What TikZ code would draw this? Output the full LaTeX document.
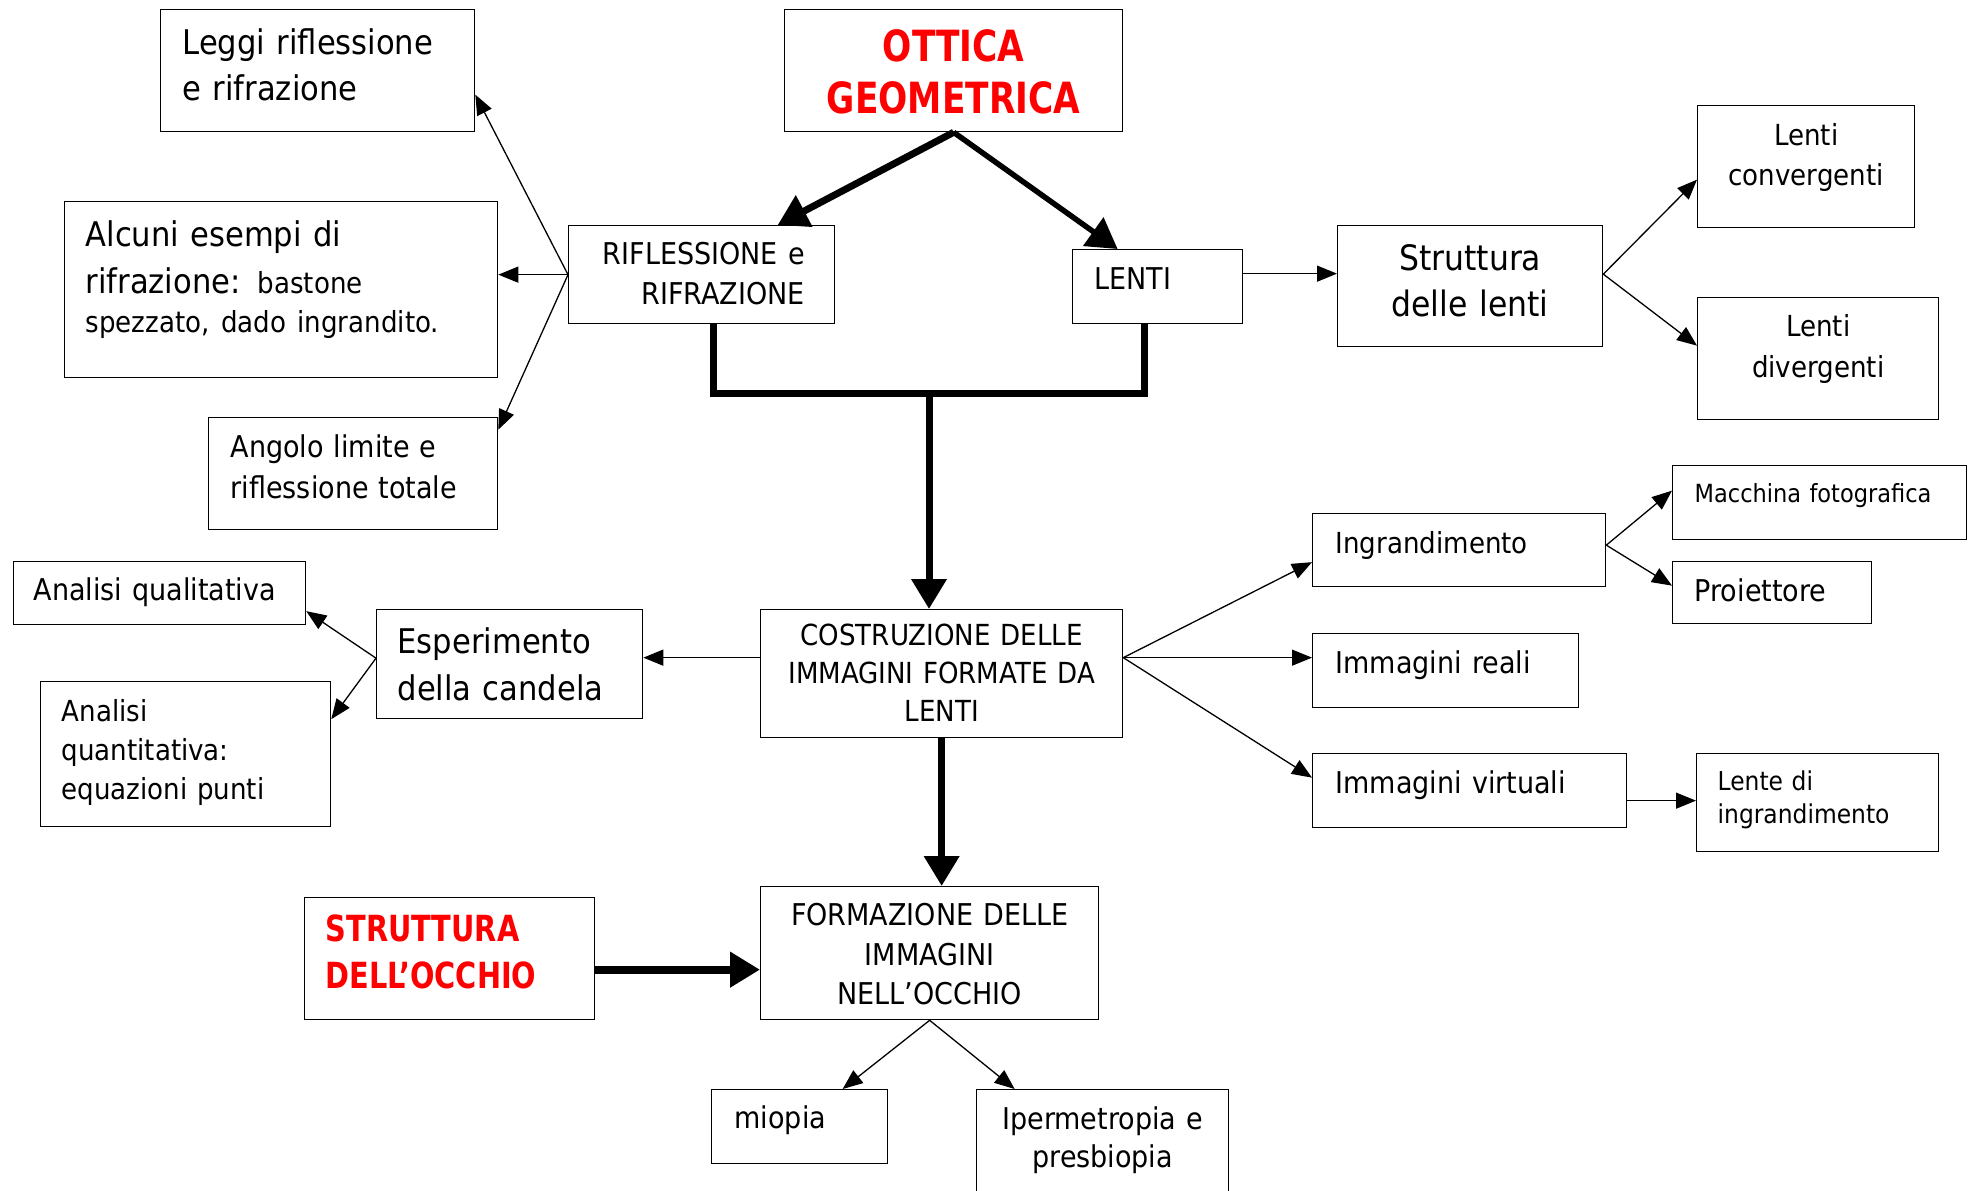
\documentclass[tikz,border=0pt]{standalone}
\usepackage{fontspec}
\setmainfont{DejaVu Sans}[FakeStretch=0.9]
\newfontfamily\titlefont{DejaVu Sans}[FakeStretch=0.8]
\usetikzlibrary{arrows.meta}

\definecolor{titlered}{RGB}{255,0,0}

\tikzset{
    box/.style={draw, line width=1.3pt, anchor=north west, inner ysep=0pt,
        font=\fontsize{30}{40}\selectfont},
    arr/.style={line width=1.3pt, -{Triangle[length=20pt,width=16pt]}},
    fat/.style={-{Triangle[length=30pt,width=34pt]}},
}

\begin{document}
\begin{tikzpicture}[x=1pt, y=-1pt]
    \useasboundingbox (0,0) rectangle (1978,1191);

    % Ottica geometrica
    \node[box, minimum width=338pt, text width=330pt, inner xsep=4pt, text height=52pt, text depth=70pt,
        align=center, text=titlered, font=\titlefont\bfseries\fontsize{43}{52}\selectfont]
        (ottica) at (784,9) {OTTICA\\GEOMETRICA};

    % Riflessione e rifrazione
    \node[box, minimum width=266pt, text width=206pt, inner xsep=30pt, text height=39pt, text depth=59pt,
        align=right] (rifl) at (568,225) {RIFLESSIONE e\\RIFRAZIONE};
    \node[box, minimum width=314pt, text width=270pt, inner xsep=22pt, text height=45pt, text depth=77pt,
        align=left, font=\fontsize{34}{46}\selectfont] (leggi) at (160,9) {Leggi riflessione\\e rifrazione};
    \node[box, minimum width=433pt, text width=391pt, inner xsep=21pt, text height=45pt, text depth=131pt,
        align=left, font=\fontsize{34}{39}\selectfont] (alcuni) at (64,201)
        {Alcuni esempi di\\[8pt]rifrazione: {\fontsize{29}{39}\selectfont bastone\\spezzato, dado ingrandito.}};
    \node[box, minimum width=289pt, text width=245pt, inner xsep=22pt, text height=40pt, text depth=72pt,
        align=left, font=\fontsize{30}{41}\selectfont] (angolo) at (208,417) {Angolo limite e\\riflessione totale};

    \draw[arr] (rifl.west) -- ([yshift=-24pt]leggi.east);
    \draw[arr] (rifl.west) -- (rifl.west -| alcuni.east);
    \draw[arr] (rifl.west) -- ([yshift=44pt]angolo.east);

    % Lenti
    \node[box, minimum width=170pt, text width=126pt, inner xsep=22pt, text height=40pt, text depth=34pt,
        align=left] (lenti) at (1072,249) {LENTI};
    \node[box, minimum width=265pt, text width=245pt, inner xsep=10pt, text height=45pt, text depth=76pt,
        align=center, font=\fontsize{35}{46}\selectfont] (strutt) at (1337,225) {Struttura\\delle lenti};
    \node[box, minimum width=217pt, text width=197pt, inner xsep=10pt, text height=40pt, text depth=82pt,
        align=center, font=\fontsize{29}{40}\selectfont] (conv) at (1697,105) {Lenti\\convergenti};
    \node[box, minimum width=241pt, text width=221pt, inner xsep=10pt, text height=39pt, text depth=83pt,
        align=center, font=\fontsize{29}{41}\selectfont] (div) at (1697,297) {Lenti\\divergenti};

    \draw[arr] ([yshift=13pt]lenti.east) -- ([yshift=13pt]lenti.east -| strutt.west);
    \draw[arr] ([yshift=12pt]strutt.east) -- ([yshift=-13pt]conv.west);
    \draw[arr] ([yshift=12pt]strutt.east) -- ([yshift=13pt]div.west);

    \draw[line width=7pt, fat] (ottica.south) -- ([xshift=76pt]rifl.north);
    \draw[line width=5.5pt, fat] (ottica.south) -- ([xshift=-40pt]lenti.north);

    % Costruzione delle immagini
    \node[box, minimum width=362pt, text width=350pt, inner xsep=6pt, text height=36pt, text depth=92pt,
        align=center, font=\fontsize{29}{38}\selectfont] (costr) at (760,609)
        {COSTRUZIONE DELLE\\IMMAGINI FORMATE DA\\LENTI};

    \coordinate (join) at (929,393);
    \draw[line width=7pt] ([xshift=12pt]rifl.south) |- (join) -| ([xshift=-13pt]lenti.south);
    \draw[line width=7pt, fat] (join) -- (join |- costr.north);

    \node[box, minimum width=293pt, text width=247pt, inner xsep=23pt, text height=40pt, text depth=33pt,
        align=left, font=\fontsize{29}{40}\selectfont] (ingr) at (1312,513) {Ingrandimento};
    \node[box, minimum width=266pt, text width=220pt, inner xsep=23pt, text height=40pt, text depth=34pt,
        align=left] (reali) at (1312,633) {Immagini reali};
    \node[box, minimum width=314pt, text width=268pt, inner xsep=23pt, text height=40pt, text depth=34pt,
        align=left] (virt) at (1312,753) {Immagini virtuali};
    \node[box, minimum width=294pt, text width=250pt, inner xsep=22pt, text height=37pt, text depth=37pt,
        align=left, font=\fontsize{25}{34}\selectfont] (mac) at (1672,465) {Macchina fotografica};
    \node[box, minimum width=199pt, text width=155pt, inner xsep=22pt, text height=40pt, text depth=22pt,
        align=left] (proi) at (1672,561) {Proiettore};
    \node[box, minimum width=242pt, text width=200pt, inner xsep=21pt, text height=37pt, text depth=61pt,
        align=left, font=\fontsize{26}{33}\selectfont] (lente) at (1696,753) {Lente di\\ingrandimento};

    \draw[arr] ([yshift=16pt]costr.east) -- ([yshift=-12pt]ingr.west);
    \draw[arr] ([yshift=16pt]costr.east) -- ([yshift=16pt]costr.east -| reali.west);
    \draw[arr] ([yshift=16pt]costr.east) -- ([yshift=13pt]virt.west);
    \draw[arr] ([yshift=5pt]ingr.east) -- ([yshift=12pt]mac.west);
    \draw[arr] ([yshift=5pt]ingr.east) -- ([yshift=7pt]proi.west);
    \draw[arr] ([yshift=-10pt]virt.east) -- ([yshift=-10pt]virt.east -| lente.west);

    % Esperimento della candela
    \node[box, minimum width=266pt, text width=224pt, inner xsep=21pt, text height=44pt, text depth=65pt,
        align=left, font=\fontsize{34}{47}\selectfont] (esper) at (376,609) {Esperimento\\della candela};
    \node[box, minimum width=292pt, text width=252pt, inner xsep=20pt, text height=39pt, text depth=24pt,
        align=left] (qual) at (13,561) {Analisi qualitativa};
    \node[box, minimum width=290pt, text width=248pt, inner xsep=21pt, text height=40pt, text depth=105pt,
        align=left, font=\fontsize{29}{39}\selectfont] (quant) at (40,681)
        {Analisi\\quantitativa:\\equazioni punti};

    \draw[arr] ([yshift=16pt]costr.west) -- ([yshift=16pt]costr.west -| esper.east);
    \draw[arr] ([yshift=6pt]esper.west) -- ([yshift=-18pt]qual.east);
    \draw[arr] ([yshift=6pt]esper.west) -- ([yshift=35pt]quant.east);

    % Occhio
    \node[box, minimum width=338pt, text width=326pt, inner xsep=6pt, text height=39pt, text depth=94pt,
        align=center, font=\fontsize{30}{39.5}\selectfont] (form) at (760,886)
        {FORMAZIONE DELLE\\IMMAGINI\\NELL’OCCHIO};
    \node[box, minimum width=290pt, text width=260pt, inner xsep=15pt, text height=44pt, text depth=78pt,
        align=left, text=titlered, font=\titlefont\bfseries\fontsize{36}{47}\selectfont]
        (occhio) at (304,897) {\hspace{6pt}STRUTTURA\\\hspace*{6pt}DELL’OCCHIO};
    \node[box, minimum width=176pt, text width=130pt, inner xsep=23pt, text height=39pt, text depth=35pt,
        align=left] (miopia) at (711,1089) {miopia};
    \node[box, minimum width=252pt, text width=240pt, inner xsep=6pt, text height=40pt, text depth=70pt,
        align=center, font=\fontsize{30}{38}\selectfont] (iper) at (976,1089) {Ipermetropia e\\presbiopia};

    \draw[line width=7pt, fat] (costr.south) -- (costr.south |- form.north);
    \draw[line width=8pt, fat] ([yshift=-11pt]occhio.east) -- ([yshift=-11pt]occhio.east -| form.west);
    \draw[arr] (form.south) -- ([xshift=43pt]miopia.north);
    \draw[arr] (form.south) -- ([xshift=-88pt]iper.north);

\end{tikzpicture}
\end{document}
